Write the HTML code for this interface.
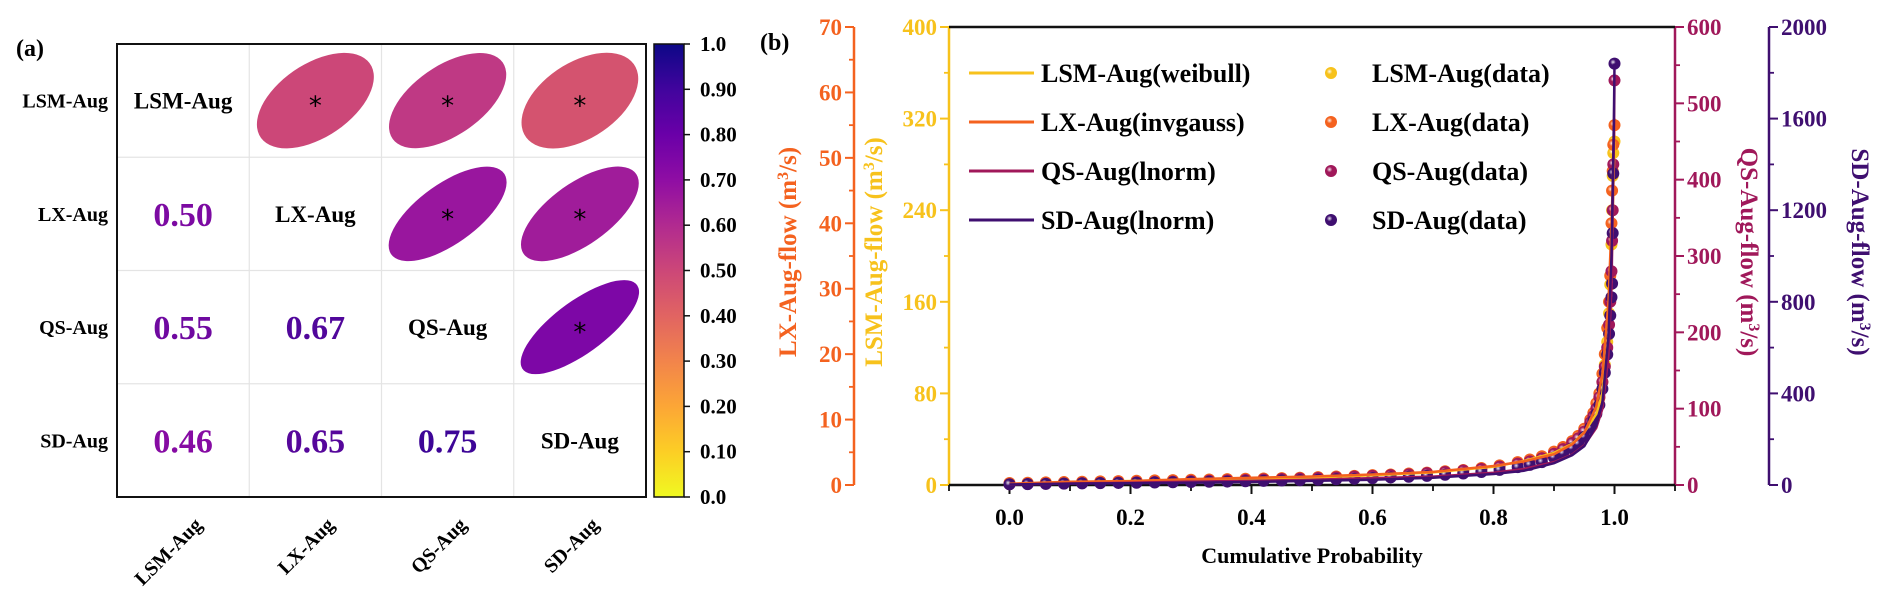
<!DOCTYPE html>
<html><head><meta charset="utf-8"><style>
html,body{margin:0;padding:0;background:#fff}
svg{display:block;font-family:"Liberation Serif",serif;font-weight:bold}
</style></head><body>
<svg id="fig" width="1892" height="608" viewBox="0 0 1892 608" xmlns="http://www.w3.org/2000/svg">
<defs>
<linearGradient id="plasmaR" x1="0" y1="1" x2="0" y2="0">
<stop offset="0" stop-color="#f0f921"/><stop offset="0.1" stop-color="#fcce25"/><stop offset="0.2" stop-color="#fca636"/><stop offset="0.3" stop-color="#f2844b"/><stop offset="0.4" stop-color="#e16462"/><stop offset="0.5" stop-color="#cc4778"/><stop offset="0.6" stop-color="#b12a90"/><stop offset="0.7" stop-color="#8f0da4"/><stop offset="0.8" stop-color="#6a00a8"/><stop offset="0.9" stop-color="#41049d"/><stop offset="1" stop-color="#0d0887"/>
</linearGradient>
<radialGradient id="hl" cx="0.5" cy="0.5" r="0.5"><stop offset="0" stop-color="#fff" stop-opacity="0.9"/><stop offset="1" stop-color="#fff" stop-opacity="0"/></radialGradient>
</defs>
<g id="panelA"></g>
<g id="panelB"></g>
</svg>
<script>
// ---------- Panel (a) data ----------
const corrVars = ["LSM-Aug","LX-Aug","QS-Aug","SD-Aug"];
const corrLower = [[1,0.50,0.55,0.46],[0.50,1,0.67,0.65],[0.55,0.67,1,0.75],[0.46,0.65,0.75,1]];
const cbarTicks = ["0.0","0.10","0.20","0.30","0.40","0.50","0.60","0.70","0.80","0.90","1.0"];
const cbarTickVals = [0,0.1,0.2,0.3,0.4,0.5,0.6,0.7,0.8,0.9,1.0];

// ---------- Panel (b) data ----------
const probs = [0.0,0.03,0.06,0.09,0.12,0.15,0.18,0.21,0.24,0.27,0.3,0.33,0.36,0.39,0.42,0.45,0.48,0.51,0.54,0.57,0.6,0.63,0.66,0.69,0.72,0.75,0.78,0.81,0.84,0.86,0.88,0.9,0.915,0.93,0.94,0.95,0.96,0.965,0.97,0.975,0.98,0.984,0.988,0.991,0.993,0.995,0.996,0.997,0.998,1.0];
const lsmData = [1,1.3,1.6,1.9,2.2,2.5,2.8,3.1,3.4,3.7,4,4.3,4.6,5,5.4,5.8,6.2,6.7,7.2,7.7,8.3,9,9.7,10.5,11.5,12.5,14,16,19,21,24,28,32,37,41,47,55,60,67,76,90,105,125,150,175,210,240,270,290,300];
const lxData  = [0.3,0.35,0.4,0.45,0.5,0.55,0.6,0.65,0.7,0.75,0.8,0.85,0.9,0.95,1.0,1.05,1.1,1.2,1.3,1.4,1.5,1.6,1.75,1.9,2.1,2.3,2.6,3.0,3.5,3.9,4.4,5.1,5.8,6.7,7.5,8.6,10,11,12.5,14,17,20,24,28,32,40,45,48,52,55];
const qsData  = [1,1.3,1.6,2,2.4,2.8,3.2,3.6,4,4.5,5,5.5,6,6.6,7.2,7.8,8.5,9.2,10,11,12,13,14,15.5,17,19,21,24,28,31,35,41,47,55,61,70,82,90,100,115,135,155,180,210,240,280,320,360,420,530];
const sdData  = [3,4,5,6,7,8,9,10,11,12,13,14,15,16.5,18,19.5,21,23,25,27,30,33,36,40,45,50,57,66,78,88,100,120,138,160,180,210,250,280,310,350,420,490,570,660,740,820,880,1100,1360,1840];
const fitProbs = [0.0,0.1,0.2,0.3,0.4,0.5,0.6,0.7,0.8,0.85,0.9,0.93,0.95,0.97,0.98,0.99,0.995,0.999,1.0];
const lsmFit = [0.5,2.5,3.5,4.5,5.5,6.5,8.5,11,16,21,28,36,46,62,80,130,190,280,300];
const lxFit  = [0.2,0.5,0.6,0.9,1.1,1.3,1.6,2.0,2.9,3.6,4.7,6.2,8.0,12,17,28,40,52,56];
const qsFit  = [0.5,2,3,4.5,5.5,7,9,11,16,21,30,40,52,75,100,170,260,450,530];
const sdFit  = [2,6,8,10,13,18,23,32,48,62,95,130,170,260,360,650,1000,1600,1840];
const xTicks = [0.0,0.2,0.4,0.6,0.8,1.0];
const xTickLabels = ["0.0","0.2","0.4","0.6","0.8","1.0"];
const lxTicks = [0,10,20,30,40,50,60,70];
const lsmTicks = [0,80,160,240,320,400];
const qsTicks = [0,100,200,300,400,500,600];
const sdTicks = [0,400,800,1200,1600,2000];

const NS="http://www.w3.org/2000/svg";
function mk(tag, parent, attrs, text){
  const e=document.createElementNS(NS,tag);
  for(const k in attrs) e.setAttribute(k,attrs[k]);
  if(text!==undefined) e.textContent=text;
  parent.appendChild(e); return e;
}
function hex(c){return [parseInt(c.slice(1,3),16),parseInt(c.slice(3,5),16),parseInt(c.slice(5,7),16)];}
const plasma=["#0d0887","#41049d","#6a00a8","#8f0da4","#b12a90","#cc4778","#e16462","#f2844b","#fca636","#fcce25","#f0f921"];
function plasmaR(v){
  const tt=(1-v)*10; const i=Math.min(9,Math.floor(tt)); const f=tt-i;
  const a=hex(plasma[i]), b=hex(plasma[i+1]);
  return "rgb("+a.map((x,k)=>Math.round(x+(b[k]-x)*f)).join(",")+")";
}
function darken(v){
  const tt=Math.min(1,Math.max(0,(v-0.4)/0.4));
  const a=[0x95,0x0c,0xa6], b=[0x30,0x04,0x95];
  return "rgb("+a.map((x,k)=>Math.round(x+(b[k]-x)*tt)).join(",")+")";
}

// ---------- Panel (a) ----------
const A=document.getElementById('panelA');
const aL=117, aT=44, aR=646, aB=497, nV=4, cw=(aR-aL)/nV, ch=(aB-aT)/nV;
let lbl=mk('text',A,{x:16,y:56,'font-size':24},'(a)');


for(let i=1;i<nV;i++){
  let g=mk('line',A,{x1:aL+i*cw,y1:aT,x2:aL+i*cw,y2:aB,stroke:'#e4e4e4','stroke-width':1.2});
  
  
  g=mk('line',A,{x1:aL,y1:aT+i*ch,x2:aR,y2:aT+i*ch,stroke:'#e4e4e4','stroke-width':1.2});
  
  
}
for(let r=0;r<nV;r++){
  const cy=aT+(r+0.5)*ch;
  let rl=mk('text',A,{x:108,y:cy+7,'font-size':20,'text-anchor':'end'},corrVars[r]);
  
  
  const cx0=aL+(r+0.5)*cw;
  let cl=mk('text',A,{x:0,y:0,'font-size':20,'text-anchor':'end',transform:`translate(${cx0+20},${526}) rotate(-45)`},corrVars[r]);
  
  
  for(let c=0;c<nV;c++){
    const cx=aL+(c+0.5)*cw, v=corrLower[r][c];
    if(r===c){
      let d=mk('text',A,{x:cx,y:cy+8,'font-size':23,'text-anchor':'middle'},corrVars[r]);
      
      
    } else if(r>c){
      let d=mk('text',A,{x:cx,y:cy+12,'font-size':34,'text-anchor':'middle',fill:darken(v)},v.toFixed(2));
      
      
    } else {
      const ratio=Math.sqrt((1-v)/(1+v));
      const rx=Math.sqrt(6498/(1+ratio*ratio)), ry=rx*ratio;
      let e=mk('ellipse',A,{cx:0,cy:0,rx:rx,ry:ry,fill:plasmaR(v),transform:`translate(${cx},${cy}) scale(1,0.86) rotate(-42)`});
      
      
      let s=mk('text',A,{x:cx,y:cy+14,'font-size':26,'text-anchor':'middle','font-weight':'normal','font-family':'DejaVu Sans, sans-serif'},'*');
      
      
    }
  }
}
let bx=mk('rect',A,{x:aL,y:aT,width:aR-aL,height:aB-aT,fill:'none',stroke:'#111','stroke-width':2});


const cbx=654, cbw=30;
let cb=mk('rect',A,{x:cbx,y:aT,width:cbw,height:aB-aT,fill:'url(#plasmaR)',stroke:'#111','stroke-width':1.5});


cbarTickVals.forEach((v,i)=>{
  const y=aB-v*(aB-aT);
  let tk=mk('line',A,{x1:cbx+cbw,y1:y,x2:cbx+cbw+6,y2:y,stroke:'#111','stroke-width':1.5});
  
  
  let tl=mk('text',A,{x:cbx+cbw+16,y:y+7,'font-size':21},cbarTicks[i]);
  
  
});

// ---------- Panel (b) ----------
const PB=document.getElementById('panelB');
const pl=949, pr=1675, pt=27, pb=485;
const xs=v=>pl+(v+0.1)/1.2*(pr-pl);
function ys(max){return v=>pb-v/max*(pb-pt);}
const yLX=ys(70), yLSM=ys(400), yQS=ys(600), ySD=ys(2000);
const cLSM='#f7c21c', cLX='#f4621f', cQS='#a0185a', cSD='#3f0f70';
let lblB=mk('text',PB,{x:760,y:50,'font-size':24},'(b)');



function yAxis(x,ticks,max,color,side,nm,title,titleX,step){
  const sc=ys(max), dir=side==='left'?-1:1;
  let ax=mk('line',PB,{x1:x,y1:pt,x2:x,y2:pb,stroke:color,'stroke-width':2.5});
  
  
  ticks.forEach(v=>{
    const y=sc(v);
    let tk=mk('line',PB,{x1:x,y1:y,x2:x+dir*9,y2:y,stroke:color,'stroke-width':2});
    
    
    let tl=mk('text',PB,{x:x+dir*12,y:y+8,'font-size':23,fill:color,'text-anchor':side==='left'?'end':'start'},String(v));
    
    
    if(v<max){
      const ym=sc(v+step/2);
      let mn=mk('line',PB,{x1:x,y1:ym,x2:x+dir*5,y2:ym,stroke:color,'stroke-width':1.8});
      
      
    }
  });
  const cy=252;
  let tt=mk('text',PB,{x:0,y:0,'font-size':25,fill:color,'text-anchor':'middle',transform:`translate(${titleX},${cy}) rotate(${side==='left'?-90:90})`});
  
  
  tt.appendChild(document.createTextNode(title+' (m'));
  mk('tspan',tt,{'baseline-shift':'super','font-size':16},'3');
  tt.appendChild(document.createTextNode('/s)'));
}
yAxis(854,lxTicks,70,cLX,'left','lx-flow','LX-Aug-flow',796,10);
yAxis(pl,lsmTicks,400,cLSM,'left','lsm-flow','LSM-Aug-flow',882,80);
yAxis(pr,qsTicks,600,cQS,'right','qs-flow','QS-Aug-flow',1741,100);
yAxis(1769,sdTicks,2000,cSD,'right','sd-flow','SD-Aug-flow',1852,400);

let xa=mk('line',PB,{x1:pl,y1:pb,x2:pr,y2:pb,stroke:'#111','stroke-width':2.5});


let topBorder=mk('line',PB,{x1:pl,y1:pt,x2:pr,y2:pt,stroke:'#111','stroke-width':2.5});


xTicks.forEach((v,i)=>{
  let tk=mk('line',PB,{x1:xs(v),y1:pb,x2:xs(v),y2:pb+9,stroke:'#111','stroke-width':2});
  
  
  let tl=mk('text',PB,{x:xs(v),y:525,'font-size':23,'text-anchor':'middle'},xTickLabels[i]);
  
  
  let mn=mk('line',PB,{x1:xs(v-0.1),y1:pb,x2:xs(v-0.1),y2:pb+6,stroke:'#111','stroke-width':1.8});
  
  
});
let lastMinor=mk('line',PB,{x1:xs(1.1),y1:pb,x2:xs(1.1),y2:pb+6,stroke:'#111','stroke-width':1.8});


let xt=mk('text',PB,{x:(pl+pr)/2,y:563,'font-size':22,'text-anchor':'middle'},'Cumulative Probability');



function points(arr,sc,color,nm){
  const g=mk('g',PB,{});
  
  
  arr.forEach((v,i)=>{
    const x=xs(probs[i]), y=sc(v);
    let c=mk('circle',g,{cx:x,cy:y,r:6,fill:color});
    
    
    mk('circle',g,{cx:x-1.5,cy:y-1.5,r:2.8,fill:'url(#hl)'});
  });
}
function curve(arr,sc,color,nm){
  const d=arr.map((v,i)=>(i?'L':'M')+xs(fitProbs[i]).toFixed(1)+','+sc(v).toFixed(1)).join(' ');
  let p=mk('path',PB,{d:d,fill:'none',stroke:color,'stroke-width':2.5});
  
  
}
points(lsmData,yLSM,cLSM,'lsm');
points(lxData,yLX,cLX,'lx');
points(qsData,yQS,cQS,'qs');
points(sdData,ySD,cSD,'sd');
curve(lsmFit,yLSM,cLSM,'lsm');
curve(lxFit,yLX,cLX,'lx');
curve(qsFit,yQS,cQS,'qs');
curve(sdFit,ySD,cSD,'sd');

const leg=mk('g',PB,{});


const legLines=[["LSM-Aug(weibull)",cLSM],["LX-Aug(invgauss)",cLX],["QS-Aug(lnorm)",cQS],["SD-Aug(lnorm)",cSD]];
const legPts=[["LSM-Aug(data)",cLSM],["LX-Aug(data)",cLX],["QS-Aug(data)",cQS],["SD-Aug(data)",cSD]];
legLines.forEach((e,i)=>{
  const y=73+i*49;
  let ln=mk('line',leg,{x1:969,y1:y,x2:1034,y2:y,stroke:e[1],'stroke-width':3});
  
  
  let tx=mk('text',leg,{x:1041,y:y+9,'font-size':26},e[0]);
  
  
});
legPts.forEach((e,i)=>{
  const y=73+i*49;
  let c=mk('circle',leg,{cx:1331,cy:y,r:6,fill:e[1]});
  
  
  mk('circle',leg,{cx:1329.5,cy:y-1.5,r:2.8,fill:'url(#hl)'});
  let tx=mk('text',leg,{x:1372,y:y+9,'font-size':26},e[0]);
  
  
});
</script>
</body></html>
